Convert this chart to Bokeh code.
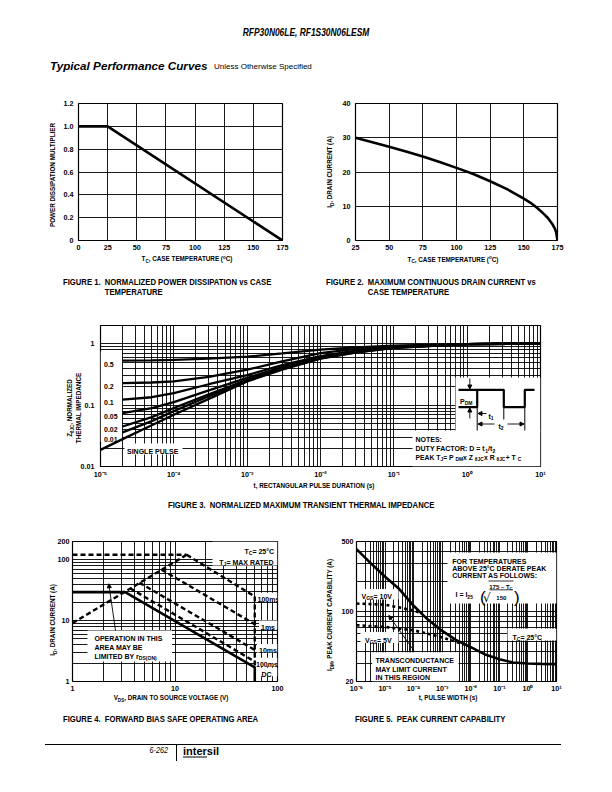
import math
from math import log10, pi
from bokeh.plotting import figure
from bokeh.models import Label, FixedTicker, CustomJSTickFormatter, Div, Arrow, NormalHead, Range1d
from bokeh.layouts import column, row
from bokeh.embed import file_html
from bokeh.resources import INLINE

# ---------------- data ----------------
fig1_temp = [0, 25, 175]
fig1_mult = [1.0, 1.0, 0.0]
fig1_xticks = [0, 25, 50, 75, 100, 125, 150, 175]
fig1_yticks = [0, 0.2, 0.4, 0.6, 0.8, 1.0, 1.2]

fig2_temp = [25, 37.5, 50, 62.5, 75, 87.5, 100, 112.5, 125, 137.5, 150, 155, 160, 165, 168, 171, 173, 174, 175]
fig2_id = [30, 28.7, 27.4, 26.0, 24.5, 22.9, 21.2, 19.4, 17.3, 15.0, 12.2, 11.0, 9.5, 7.7, 6.5, 4.9, 3.5, 2.4, 0]
fig2_xticks = [25, 50, 75, 100, 125, 150, 175]
fig2_yticks = [0, 10, 20, 30, 40]

fig3_t = [2e-5, 5e-5, 1e-4, 3e-4, 1e-3, 3e-3, 1e-2, 3e-2, 1e-1, 1, 10]
fig3_z_d50 = [0.534, 0.54, 0.55, 0.575, 0.62, 0.70, 0.81, 0.88, 0.94, 0.99, 1.02]
fig3_z_d20 = [0.23, 0.235, 0.245, 0.29, 0.38, 0.52, 0.71, 0.83, 0.92, 0.99, 1.02]
fig3_z_d10 = [0.123, 0.135, 0.158, 0.22, 0.31, 0.45, 0.63, 0.78, 0.89, 0.99, 1.02]
fig3_z_d05 = [0.0745, 0.09, 0.112, 0.175, 0.28, 0.42, 0.60, 0.76, 0.88, 0.99, 1.02]
fig3_z_d02 = [0.045, 0.064, 0.09, 0.15, 0.26, 0.40, 0.585, 0.74, 0.87, 0.99, 1.02]
fig3_z_d01 = [0.036, 0.055, 0.08, 0.14, 0.25, 0.39, 0.58, 0.73, 0.865, 0.99, 1.02]
fig3_t_single = [1e-5, 2e-5, 5e-5, 1e-4, 3e-4, 1e-3, 3e-3, 1e-2, 3e-2, 1e-1, 1, 10]
fig3_z_single = [0.0187, 0.028, 0.047, 0.07, 0.127, 0.245, 0.38, 0.575, 0.72, 0.86, 0.99, 1.02]
fig3_duty_labels = ["0.5", "0.2", "0.1", "0.05", "0.02", "0.01"]
fig3_xticks = [1e-5, 1e-4, 1e-3, 1e-2, 1e-1, 1, 10]
fig3_yticks = [0.01, 0.1, 1]

fig4_rds_v = [1, 13.0]
fig4_rds_i = [9.1, 121]
fig4_lim_v = [1, 13.0]
fig4_lim_i = [121, 121]
fig4_100us_v = [13.0, 60]
fig4_100us_i = [121, 25]
fig4_1ms_v = [7.4, 60]
fig4_1ms_i = [69, 8.75]
fig4_10ms_v = [4.5, 60]
fig4_10ms_i = [42, 3.3]
fig4_100ms_v = [3.65, 60]
fig4_100ms_i = [34, 2.13]
fig4_bv_v = [60, 60]
fig4_bv_i = [25, 1.7]
fig4_dc_v = [1, 3.26, 60, 60]
fig4_dc_i = [29.4, 29.4, 1.7, 1]
fig4_xticks = [1, 10, 100]
fig4_yticks = [1, 10, 100, 200]
fig4_line_labels = ["100ms", "1ms", "10ms", "100ms", "DC"]

fig5_t = [1e-6, 3e-6, 1e-5, 3e-5, 1e-4, 3e-4, 1e-3, 3e-3, 1e-2, 3e-2, 1e-1, 3e-1, 1, 3, 10]
fig5_idm = [420, 308, 222, 170, 114, 84, 64, 52, 44, 37.5, 33.4, 31, 30.3, 30, 29.8]
fig5_t_10v = [1e-6, 1e-5, 3e-5, 1e-4, 2e-4]
fig5_i_10v = [120, 117, 110, 102, 96]
fig5_t_5v = [1e-6, 1e-5, 1e-4, 1e-3, 3e-3, 7e-3]
fig5_i_5v = [73, 70, 65, 55, 50, 46]
fig5_xticks = [1e-6, 1e-5, 1e-4, 1e-3, 1e-2, 1e-1, 1, 10]
fig5_yticks = [20, 100, 500]

# ---------------- helpers ----------------
FONT = "Liberation Sans"
TXT = 7.0     # in-frame annotation size
TICK = "7.2px"
AW = {' ': 278, '!': 333, '(': 333, ')': 333, '+': 584, ',': 278, '-': 333, '.': 278, '/': 278,
      ':': 333, '=': 584, '°': 400, '–': 556, 'θ': 611}
for c in "0123456789":
    AW[c] = 556
AW.update(dict(zip("ABCDEFGHIJKLMNOPQRSTUVWXYZ",
                   [722, 722, 722, 722, 667, 611, 778, 722, 278, 556, 722, 611, 833, 722, 778, 667, 778, 722, 667, 611, 722, 667, 944, 667, 667, 611])))
AW.update(dict(zip("abcdefghijklmnopqrstuvwxyz",
                   [556, 611, 556, 611, 556, 333, 611, 611, 278, 278, 556, 278, 889, 611, 611, 611, 611, 389, 556, 333, 611, 556, 778, 556, 556, 500])))


def tw(s, size):
    return sum(AW.get(c, 600) for c in s) * size / 1000.0


class Frame:
    def __init__(self, L, T, R, B, xr, yr, xlog=False, ylog=False):
        self.L, self.T, self.R, self.B = L, T, R, B
        self.xr, self.yr, self.xlog, self.ylog = xr, yr, xlog, ylog

    @staticmethod
    def _m(v0, v1, f, log):
        if log:
            a, b = log10(v0), log10(v1)
            return 10 ** (a + f * (b - a))
        return v0 + f * (v1 - v0)

    def x(self, px):
        return self._m(self.xr[0], self.xr[1], (px - self.L) / (self.R - self.L), self.xlog)

    def y(self, py):
        return self._m(self.yr[0], self.yr[1], (self.B - py) / (self.B - self.T), self.ylog)


def rich(p, fr, px, py, segs, size=TXT, align="left", style="bold", font=FONT):
    """in-frame text (svg); segs: str or (str, 'sub'|'sup')"""
    items, total = [], 0.0
    for sg in segs:
        t, k = (sg, "") if isinstance(sg, str) else sg
        s = size * (0.72 if k else 1.0)
        w = tw(t, s)
        items.append((t, k, s, w))
        total += w
    pos = {"left": 0.0, "center": -total / 2.0, "right": -total}[align]
    base = 0.36 * size
    for t, k, s, w in items:
        off = base + {"": 0.0, "sub": 0.28 * size, "sup": -0.42 * size}[k]
        p.add_layout(Label(x=fr.x(px + pos), y=fr.y(py + off), text=t, text_font=font,
                           text_font_size=f"{s:.2f}px", text_font_style=style, text_align="left",
                           text_baseline="alphabetic", text_color="black"))
        pos += w


def wbox(p, fr, x0, y0, x1, y1):
    p.quad(left=[fr.x(x0)], right=[fr.x(x1)], top=[fr.y(y0)], bottom=[fr.y(y1)],
           fill_color="white", line_color=None)


def seg(p, fr, pts, width=1.0):
    p.line([fr.x(a) for a, b in pts], [fr.y(b) for a, b in pts], line_width=width, color="black")


def arrow(p, fr, x0, y0, x1, y1, size=4):
    p.add_layout(Arrow(x_start=fr.x(x0), y_start=fr.y(y0), x_end=fr.x(x1), y_end=fr.y(y1),
                       line_width=0.9, line_color="black",
                       end=NormalHead(size=size, fill_color="black", line_color="black")))


def make_fig(fr, cx, cy, w, h, xticks, yticks, xminor=(), yminor=(), xstand=4, ystand=5):
    p = figure(width=w, height=h, x_range=Range1d(*fr.xr), y_range=Range1d(*fr.yr),
               x_axis_type="log" if fr.xlog else "linear", y_axis_type="log" if fr.ylog else "linear",
               output_backend="svg", toolbar_location=None, title=None,
               min_border_left=fr.L - cx, min_border_right=cx + w - fr.R,
               min_border_top=fr.T - cy, min_border_bottom=cy + h - fr.B)
    p.outline_line_color = "black"
    p.outline_line_width = 1.2
    p.outline_line_alpha = 1
    p.background_fill_color = "white"
    p.border_fill_color = "white"
    tx = FixedTicker(ticks=list(xticks), minor_ticks=list(xminor))
    ty = FixedTicker(ticks=list(yticks), minor_ticks=list(yminor))
    p.xaxis.ticker = tx
    p.xgrid.ticker = tx
    p.yaxis.ticker = ty
    p.ygrid.ticker = ty
    for ax in (p.xaxis, p.yaxis):
        ax.axis_line_color = None
        ax.major_tick_out = 0
        ax.major_tick_in = 0
        ax.minor_tick_out = 0
        ax.minor_tick_in = 0
        ax.major_label_text_font = FONT
        ax.major_label_text_font_size = TICK
        ax.major_label_text_font_style = "bold"
        ax.major_label_text_color = "black"
    p.xaxis.major_label_standoff = xstand
    p.yaxis.major_label_standoff = ystand
    for g in (p.xgrid, p.ygrid):
        g.grid_line_color = "black"
        g.grid_line_width = 0.9
        g.grid_line_alpha = 1
        g.minor_grid_line_color = "black"
        g.minor_grid_line_width = 0.9
        g.minor_grid_line_alpha = 1
    return p


def minors(e0, e1):
    return [m * 10.0 ** e for e in range(e0, e1) for m in range(2, 10)]


SUP_JS = """
const e = Math.round(Math.log10(tick));
const m = {"-":"⁻","0":"⁰","1":"¹","2":"²","3":"³","4":"⁴","5":"⁵","6":"⁶","7":"⁷","8":"⁸","9":"⁹"};
return "10" + String(e).split("").map(c => m[c]).join("");
"""
INT_JS = "return String(Math.round(tick));"
DEC_JS = """
const e = Math.round(Math.log10(tick));
return e >= 0 ? String(Math.round(tick)) : "0." + "0".repeat(-e - 1) + "1";
"""

# ---------------- html text helpers (titles / captions outside the frames) ----------------
HF = "'Liberation Sans',Arial,sans-serif"
FY = 735     # page y of the top of the footer div; overlay items are placed relative to it


def sub(t):
    return f'<span style="font-size:72%;position:relative;top:0.3em;">{t}</span>'


def sup(t):
    return f'<span style="font-size:72%;position:relative;top:-0.4em;">{t}</span>'


def T(x, y, html, size, align="left", vertical=False, weight="bold", style="normal", nar=0.8, oy=FY):
    if vertical:
        tr, org = f"translate(-50%,-50%) rotate(-90deg) scaleX({nar})", "50% 50%"
    elif align == "left":
        tr, org = f"translate(0,-50%) scaleX({nar})", "0 50%"
    elif align == "center":
        tr, org = f"translate(-50%,-50%) scaleX({nar})", "50% 50%"
    else:
        tr, org = f"translate(-100%,-50%) scaleX({nar})", "100% 50%"
    return (f'<div style="position:absolute;left:{x}px;top:{y - oy:.1f}px;white-space:nowrap;line-height:1;'
            f'font-family:{HF};font-size:{size}px;font-weight:{weight};font-style:{style};color:#000;'
            f'transform:{tr};transform-origin:{org};">{html}</div>')


def CAPTION(x, y, label, lines, size=9.6, nar=0.8, lh=10.8, oy=FY):
    body = "<br>".join(lines)
    return (f'<div style="position:absolute;left:{x}px;top:{y - lh / 2 - oy:.1f}px;display:flex;'
            f'white-space:nowrap;line-height:{lh}px;font-family:{HF};font-size:{size}px;font-weight:bold;'
            f'color:#000;transform:scaleX({nar});transform-origin:0 0;">'
            f'<span style="white-space:pre;">{label}  </span><span>{body}</span></div>')


AX = 7.9     # axis title size (drawn narrow)
ov = []      # overlay items, given in page coordinates

# ---------------- Figure 1 ----------------
fr1 = Frame(78, 102, 282, 243, (0, 175), (0, 1.2))
p1 = make_fig(fr1, 0, 80, 306, 235, fig1_xticks, fig1_yticks)
p1.yaxis.major_label_overrides = {0: "0", 0.2: "0.2", 0.4: "0.4", 0.6: "0.6", 0.8: "0.8", 1: "1.0", 1.2: "1.2"}
p1.line(fig1_temp, fig1_mult, line_width=2.6, color="black")
ov.append(T(53.3, 174.5, "POWER DISSIPATION MULTIPLIER", AX, vertical=True))
ov.append(T(186.7, 259, "T" + sub("C") + ", CASE TEMPERATURE (" + sup("o") + "C)", AX, "center"))
ov.append(CAPTION(63, 282, "FIGURE 1.", ["NORMALIZED POWER DISSIPATION vs CASE", "TEMPERATURE"]))

# ---------------- Figure 2 ----------------
fr2 = Frame(355, 103, 557, 240, (25, 175), (0, 40))
p2 = make_fig(fr2, 306, 80, 306, 235, fig2_xticks, fig2_yticks)
p2.line(fig2_temp, fig2_id, line_width=2.6, color="black")
ov.append(T(330, 171.5, "I" + sub("D") + ", DRAIN CURRENT (A)", AX, vertical=True))
ov.append(T(453, 259.5, "T" + sub("C") + ", CASE TEMPERATURE (" + sup("o") + "C)", AX, "center"))
ov.append(CAPTION(325.5, 282, "FIGURE 2.", ["MAXIMUM CONTINUOUS DRAIN CURRENT vs", "CASE TEMPERATURE"]))

# ---------------- Figure 3 ----------------
fr3 = Frame(100, 325, 540, 466, (1e-5, 10), (0.01, 2), xlog=True, ylog=True)
p3 = make_fig(fr3, 0, 315, 612, 215, fig3_xticks, fig3_yticks, minors(-5, 1), minors(-2, 1), 3, 6)
p3.xaxis.formatter = CustomJSTickFormatter(code=SUP_JS)
p3.yaxis.formatter = CustomJSTickFormatter(code=DEC_JS)
wbox(p3, fr3, 100, 351, 121.5, 441)
wbox(p3, fr3, 124, 443, 182, 454)
wbox(p3, fr3, 455, 377, 540, 431)
wbox(p3, fr3, 412, 430, 540, 466)
for z in (fig3_z_d50, fig3_z_d20, fig3_z_d10, fig3_z_d05, fig3_z_d02, fig3_z_d01):
    p3.line(fig3_t, z, line_width=2.3, color="black")
p3.line(fig3_t_single, fig3_z_single, line_width=2.3, color="black")
for lab, ly in zip(fig3_duty_labels, (361, 383.3, 399.5, 413.3, 426, 436)):
    rich(p3, fr3, 103.5, ly, [lab])
rich(p3, fr3, 126.5, 448.5, ["SINGLE PULSE"])
# pulse diagram
seg(p3, fr3, [(458, 406.7), (476.7, 406.7), (476.7, 389.3), (503.3, 389.3), (503.3, 406.7),
              (524.3, 406.7), (524.3, 389.3), (534, 389.3)], 2.2)
seg(p3, fr3, [(458, 389.3), (476.7, 389.3)], 2.2)
seg(p3, fr3, [(476.7, 407), (476.7, 430)])
seg(p3, fr3, [(503.3, 407), (503.3, 419)])
seg(p3, fr3, [(524.3, 407), (524.3, 430)])
arrow(p3, fr3, 469.3, 378, 469.3, 388.5)
arrow(p3, fr3, 469.3, 418, 469.3, 407.5)
arrow(p3, fr3, 486, 413, 477.5, 413)
arrow(p3, fr3, 494, 423.5, 477.5, 423.5)
arrow(p3, fr3, 507, 423.5, 523.5, 423.5)
rich(p3, fr3, 459.5, 398, ["P", ("DM", "sub")])
rich(p3, fr3, 488, 413, ["t", ("1", "sub")])
rich(p3, fr3, 498, 423.5, ["t", ("2", "sub")])
rich(p3, fr3, 415, 436.7, ["NOTES:"])
rich(p3, fr3, 415, 445.7, ["DUTY FACTOR: D = t", ("1", "sub"), "/t", ("2", "sub")])
rich(p3, fr3, 415, 455, ["PEAK T", ("J", "sub"), " = P", ("DM", "sub"), " x Z", ("θJC", "sub"), " x R",
                         ("θJC", "sub"), " + T", ("C", "sub")], 6.8)
ov.append(T(70, 408, "Z" + sub("θJC") + ", NORMALIZED", AX, vertical=True))
ov.append(T(79.3, 408, "THERMAL IMPEDANCE", AX, vertical=True))
ov.append(T(314, 485.7, "t, RECTANGULAR PULSE DURATION (s)", AX, "center"))
ov.append(CAPTION(168, 505.5, "FIGURE 3.", ["NORMALIZED MAXIMUM TRANSIENT THERMAL IMPEDANCE"]))

# ---------------- Figure 4 ----------------
fr4 = Frame(72, 541, 277, 681, (1, 100), (1, 200), xlog=True, ylog=True)
p4 = make_fig(fr4, 0, 530, 306, 205, fig4_xticks, fig4_yticks, minors(0, 2), minors(0, 2), 4, 3)
p4.xaxis.formatter = CustomJSTickFormatter(code=INT_JS)
p4.yaxis.formatter = CustomJSTickFormatter(code=INT_JS)
wbox(p4, fr4, 212, 541, 277, 565)
wbox(p4, fr4, 87, 630, 171.5, 661)
fig4_lab_x = (257, 260.5, 258.5, 255.5, 261)
fig4_lab_y = (596.5, 624.3, 647.7, 661.5, 671.5)
for lx, ly in zip(fig4_lab_x, fig4_lab_y):
    wbox(p4, fr4, lx - 2, ly - 4.3, 277, ly + 4.3)
DASH = "5 3"
for xs, ys in ((fig4_rds_v, fig4_rds_i), (fig4_lim_v, fig4_lim_i), (fig4_100us_v, fig4_100us_i),
               (fig4_1ms_v, fig4_1ms_i), (fig4_10ms_v, fig4_10ms_i), (fig4_100ms_v, fig4_100ms_i),
               (fig4_bv_v, fig4_bv_i)):
    p4.line(xs, ys, line_width=2.4, color="black", line_dash=DASH)
p4.line(fig4_dc_v, fig4_dc_i, line_width=2.6, color="black")
rich(p4, fr4, 275.5, 548.3, ["T", ("C", "sub"), " = 25°C"], align="right")
rich(p4, fr4, 275.5, 559, ["T", ("J", "sub"), " = MAX RATED"], align="right")
for lab, lx, ly in zip(fig4_line_labels, fig4_lab_x, fig4_lab_y):
    rich(p4, fr4, lx, ly, [lab])
rich(p4, fr4, 94, 635.7, ["OPERATION IN THIS"])
rich(p4, fr4, 94, 644.5, ["AREA MAY BE"])
rich(p4, fr4, 94, 653.3, ["LIMITED BY r", ("DS(ON)", "sub")])
arrow(p4, fr4, 115, 630, 108.3, 583.3)
ov.append(T(53.3, 620, "I" + sub("D") + ", DRAIN CURRENT (A)", AX, vertical=True))
ov.append(T(171, 698, "V" + sub("DS") + ", DRAIN TO SOURCE VOLTAGE (V)", AX, "center"))
ov.append(CAPTION(63, 719.5, "FIGURE 4.", ["FORWARD BIAS SAFE OPERATING AREA"]))

# ---------------- Figure 5 ----------------
fr5 = Frame(356, 541, 556, 681, (1e-6, 10), (20, 500), xlog=True, ylog=True)
p5 = make_fig(fr5, 306, 530, 306, 205, fig5_xticks, fig5_yticks, minors(-6, 1),
              [30, 40, 50, 60, 70, 80, 90, 200, 300, 400], 2, 3)
p5.xaxis.formatter = CustomJSTickFormatter(code=SUP_JS)
p5.yaxis.formatter = CustomJSTickFormatter(code=INT_JS)
wbox(p5, fr5, 447, 552, 556, 603)
wbox(p5, fr5, 358, 588.5, 398, 599)
wbox(p5, fr5, 360, 631.5, 398, 642.5)
wbox(p5, fr5, 507, 628, 556, 640)
wbox(p5, fr5, 371.7, 651.7, 458, 681)
p5.line(fig5_t, fig5_idm, line_width=2.6, color="black")
p5.line(fig5_t_10v, fig5_i_10v, line_width=2.6, color="black", line_dash="3 3")
p5.line(fig5_t_5v, fig5_i_5v, line_width=2.6, color="black", line_dash="3 3")
rich(p5, fr5, 451.7, 558.3, ["FOR TEMPERATURES"])
rich(p5, fr5, 451.7, 565.2, ["ABOVE 25°C DERATE PEAK"])
rich(p5, fr5, 451.7, 572.3, ["CURRENT AS FOLLOWS:"])
rich(p5, fr5, 455, 591.7, ["I = I", ("25", "sub")])
rich(p5, fr5, 479.5, 591, ["("], 17, style="normal")
rich(p5, fr5, 513.5, 591, [")"], 17, style="normal")
rich(p5, fr5, 482.5, 593, ["√"], 12, style="normal", font="DejaVu Sans")
seg(p5, fr5, [(488, 580.5), (513, 580.5)], 0.8)
seg(p5, fr5, [(489, 589.3), (512.5, 589.3)], 0.8)
rich(p5, fr5, 500.5, 584, ["175 – T", ("C", "sub")], 6, "center")
rich(p5, fr5, 500.8, 595, ["150"], 6, "center")
rich(p5, fr5, 361, 593.5, ["V", ("GS", "sub"), " = 10V"])
rich(p5, fr5, 364.5, 637, ["V", ("GS", "sub"), " = 5V"])
rich(p5, fr5, 512, 634, ["T", ("C", "sub"), " = 25°C"])
rich(p5, fr5, 375, 657.3, ["TRANSCONDUCTANCE"])
rich(p5, fr5, 375, 666, ["MAY LIMIT CURRENT"])
rich(p5, fr5, 375, 674.7, ["IN THIS REGION"])
arrow(p5, fr5, 413.3, 650, 388.3, 615)
ov.append(T(330, 615, "I" + sub("DM") + ", PEAK CURRENT CAPABILITY (A)", AX, vertical=True))
ov.append(T(448, 698, "t, PULSE WIDTH (s)", AX, "center"))
ov.append(CAPTION(355, 719.5, "FIGURE 5.", ["PEAK CURRENT CAPABILITY"]))

# ---------------- footer (page furniture) ----------------
ov.append(f'<div style="position:absolute;left:45px;top:{744 - FY}px;width:516px;height:1px;background:#000;"></div>')
ov.append(f'<div style="position:absolute;left:176px;top:{744 - FY}px;width:1px;height:17px;background:#000;"></div>')
ov.append(T(168, 750, "6-262", 8.5, "right", weight="normal", style="italic", nar=0.85))
ov.append(T(183, 751, '<span style="border-bottom:1.4px solid #000;">inter</span>sil', 11, nar=1.0))

footer_html = ('<div style="position:relative;width:612px;height:57px;overflow:visible;z-index:10;">'
               + "".join(ov) + "</div>")

header_html = ('<div style="position:relative;width:612px;height:80px;">'
               + T(306, 32, "RFP30N06LE, RF1S30N06LESM", 10.5, "center", style="italic", oy=0)
               + T(50, 66, "Typical Performance Curves", 11.7, style="italic", nar=1.0, oy=0)
               + T(214, 66.5, "Unless Otherwise Specified", 8, weight="normal", nar=1.0, oy=0)
               + "</div>")

header = Div(text=header_html, width=612, height=80, margin=0)
footer = Div(text=footer_html, width=612, height=57, margin=0, styles={"overflow": "visible", "z-index": "10"})

layout = column(header, row(p1, p2, spacing=0), p3, row(p4, p5, spacing=0), footer, spacing=0)
open("out.html", "w").write(file_html(layout, INLINE))
